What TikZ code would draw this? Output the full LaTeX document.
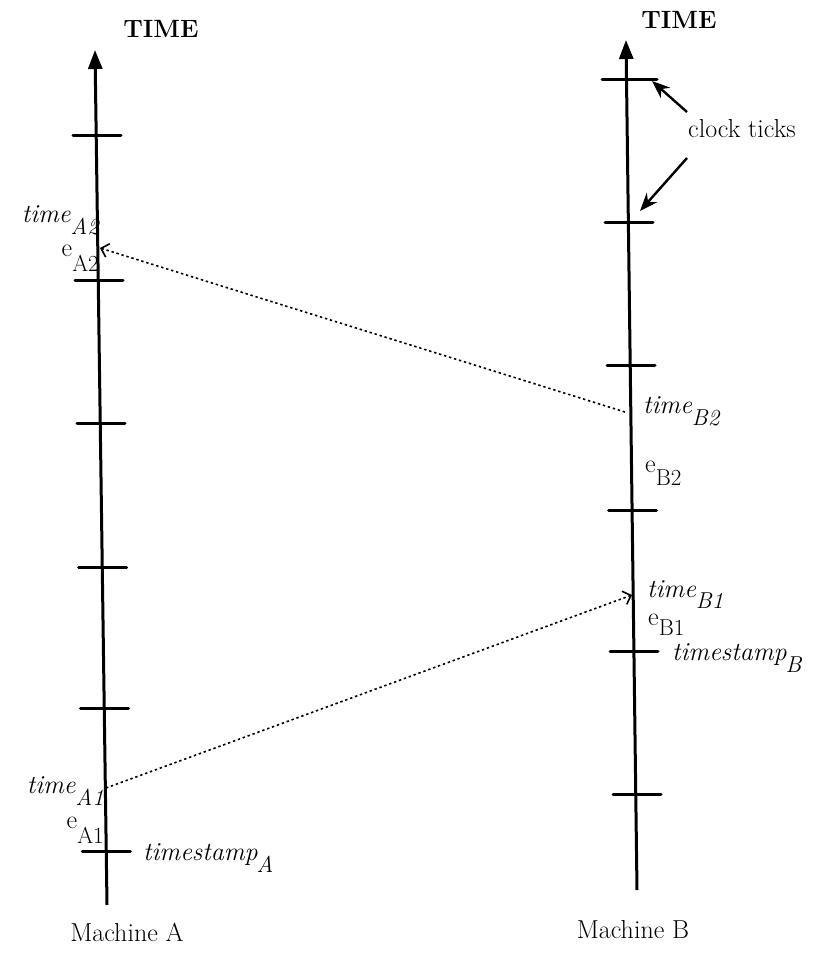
\documentclass[tikz,border=0pt]{standalone}
\usetikzlibrary{arrows.meta}
% lowered subscript set in text size, as in the typed original
\newcommand\lowsub[2][12pt]{\raisebox{-#1}{\fontsize{23}{26}\selectfont #2}}
\begin{document}
\begin{tikzpicture}[x=1pt,y=-1pt,
  axis/.style={line width=3pt,-{Triangle[width=14pt,length=19pt]}},
  tickmark/.style={line width=3pt,line cap=round},
  msg/.style={line width=1.6pt,dash pattern=on 2.4pt off 2.8pt,
    -{Straight Barb[length=7pt,width=14pt]}},
  callout/.style={line width=2.4pt,-{Stealth[width=14pt,length=18pt]}},
  lbl/.style={inner sep=0pt,font=\fontsize{26}{30}\selectfont},
  head/.style={inner sep=0pt,font=\bfseries\fontsize{25}{30}\selectfont},
]
\fill[white] (0,0) rectangle (818,954);
\useasboundingbox (0,0) rectangle (818,954);

% ---- time axes ----
\coordinate (Abot) at (107,905);
\coordinate (Atop) at (95,50);
\coordinate (Bbot) at (637,890);
\coordinate (Btop) at (626,40);
\draw[axis] (Abot) -- (Atop);
\draw[axis] (Bbot) -- (Btop);

\node[head,anchor=base] (timeA) at (161,37) {TIME};
\node[head,anchor=base] (timeB) at (679,28) {TIME};

% ---- clock ticks on machine A ----
\foreach \y/\x in {135/97, 280/99, 423/101, 567/102.6, 708/104.5, 851/106.3}
  \draw[tickmark] (\x-24,\y) -- (\x+24,\y);

% ---- clock ticks on machine B ----
\draw[tickmark] (602,79) -- (657,79);
\foreach \y/\x in {222/629, 365/631, 510/632.5, 651/634, 794/637}
  \draw[tickmark] (\x-24,\y) -- (\x+24,\y);

% ---- labels, machine A ----
\node[lbl,anchor=base east] (tA2) at (99,222) {\itshape time\lowsub{\itshape A2}};
\node[lbl,anchor=base east] (eA2) at (99,256) {e\lowsub[15pt]{A2}};
\node[lbl,anchor=base east] (tA1) at (104,793) {\itshape time\lowsub{\itshape A1}};
\node[lbl,anchor=base east] (eA1) at (104,828) {e\lowsub[15pt]{A1}};
\node[lbl,anchor=base west] (tsA) at (143,860)
  {\itshape timestamp\kern-1pt\lowsub[12pt]{\itshape A}};

% ---- labels, machine B ----
\node[lbl,anchor=base west] (tB2) at (643,413) {\itshape time\lowsub{\itshape B2}};
\node[lbl,anchor=base west] (eB2) at (645,472) {e\lowsub[13pt]{B2}};
\node[lbl,anchor=base west] (tB1) at (647,597) {\itshape time\lowsub[11pt]{\itshape B1}};
\node[lbl,anchor=base west] (eB1) at (648,625) {e\lowsub[10pt]{B1}};
\node[lbl,anchor=base west] (tsB) at (672,660)
  {\itshape timestamp\kern-1pt\lowsub[12pt]{\itshape B}};

\node[lbl,anchor=base] (machA) at (127,941) {Machine A};
\node[lbl,anchor=base] (machB) at (633,938) {Machine B};

% ---- callout for the clock ticks ----
\node[lbl,anchor=base west] (clock) at (688,137) {clock ticks};
\coordinate (ck1s) at (687,112);
\coordinate (ck1e) at (652,81);
\coordinate (ck2s) at (687,158);
\coordinate (ck2e) at (640,211);
\draw[callout] (ck1s) -- (ck1e);
\draw[callout] (ck2s) -- (ck2e);

% ---- messages between the machines ----
\coordinate (sendB2) at (625,412);
\coordinate (recvA2) at (100,248);
\coordinate (sendA1) at (106,788);
\coordinate (recvB1) at (632,595);
\draw[msg] (sendB2) -- (recvA2);
\draw[msg] (sendA1) -- (recvB1);
\end{tikzpicture}
\end{document}
